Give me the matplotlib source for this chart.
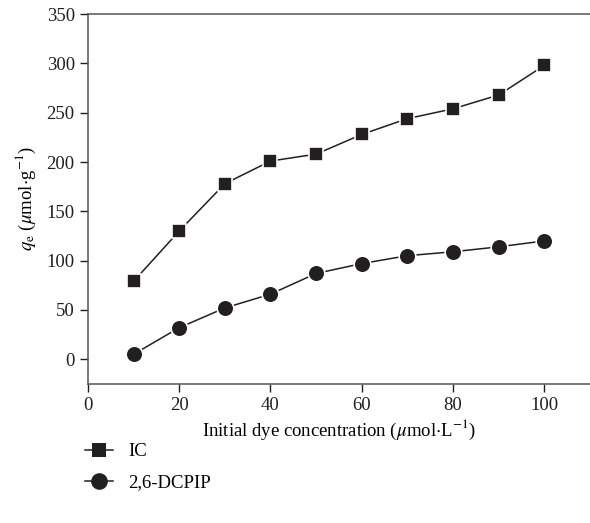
import numpy as np
import matplotlib.pyplot as plt

plt.rcParams['font.family'] = ['Liberation Serif', 'DejaVu Serif']
plt.rcParams['mathtext.fontset'] = 'stix'

conc = [10, 20, 30, 40, 50, 60, 70, 80, 90, 100]
ic = [79, 130, 178, 201, 208, 228, 244, 254, 268, 298]
dcpip = [5, 32, 52, 66, 87, 97, 105, 109, 114, 120]

fig = plt.figure(figsize=(5.90, 5.23), dpi=100)
ax = fig.add_axes([0.149, 0.266, 0.851, 0.707])

ax.plot(conc, ic, '-s', color='#231f20', lw=1.1, ms=10.5, mec='white', mew=1.2, label='IC')
ax.plot(conc, dcpip, '-o', color='#231f20', lw=1.1, ms=12, mec='white', mew=1.2, label='2,6-DCPIP')

ax.set_xlim(0, 110)
ax.set_ylim(-25, 350)
ax.set_xticks([0, 20, 40, 60, 80, 100])
ax.set_yticks([0, 50, 100, 150, 200, 250, 300, 350])
ax.tick_params(direction='out', length=6, width=1, labelsize=13.5, colors='#231f20')
for s in ['left', 'bottom', 'top']:
    ax.spines[s].set_linewidth(1.1)
    ax.spines[s].set_color('#555555')
ax.spines['right'].set_visible(False)

ax.set_xlabel(r'Initial dye concentration ($\mu$mol$\cdot$L$^{-1}$)', fontsize=13.5, labelpad=3)
ax.set_ylabel(r'$q_\mathrm{e}$ ($\mu$mol$\cdot$g$^{-1}$)', fontsize=13.5, labelpad=6)

leg = fig.legend(loc='upper left', bbox_to_anchor=(0.115, 0.185), frameon=False, fontsize=13.5,
                 handlelength=1.5, handletextpad=0.8, labelspacing=0.75)
for h in leg.legend_handles:
    h.set_markeredgecolor('#231f20')
    h.set_markeredgewidth(0)

fig.savefig('out.png', dpi=100)
